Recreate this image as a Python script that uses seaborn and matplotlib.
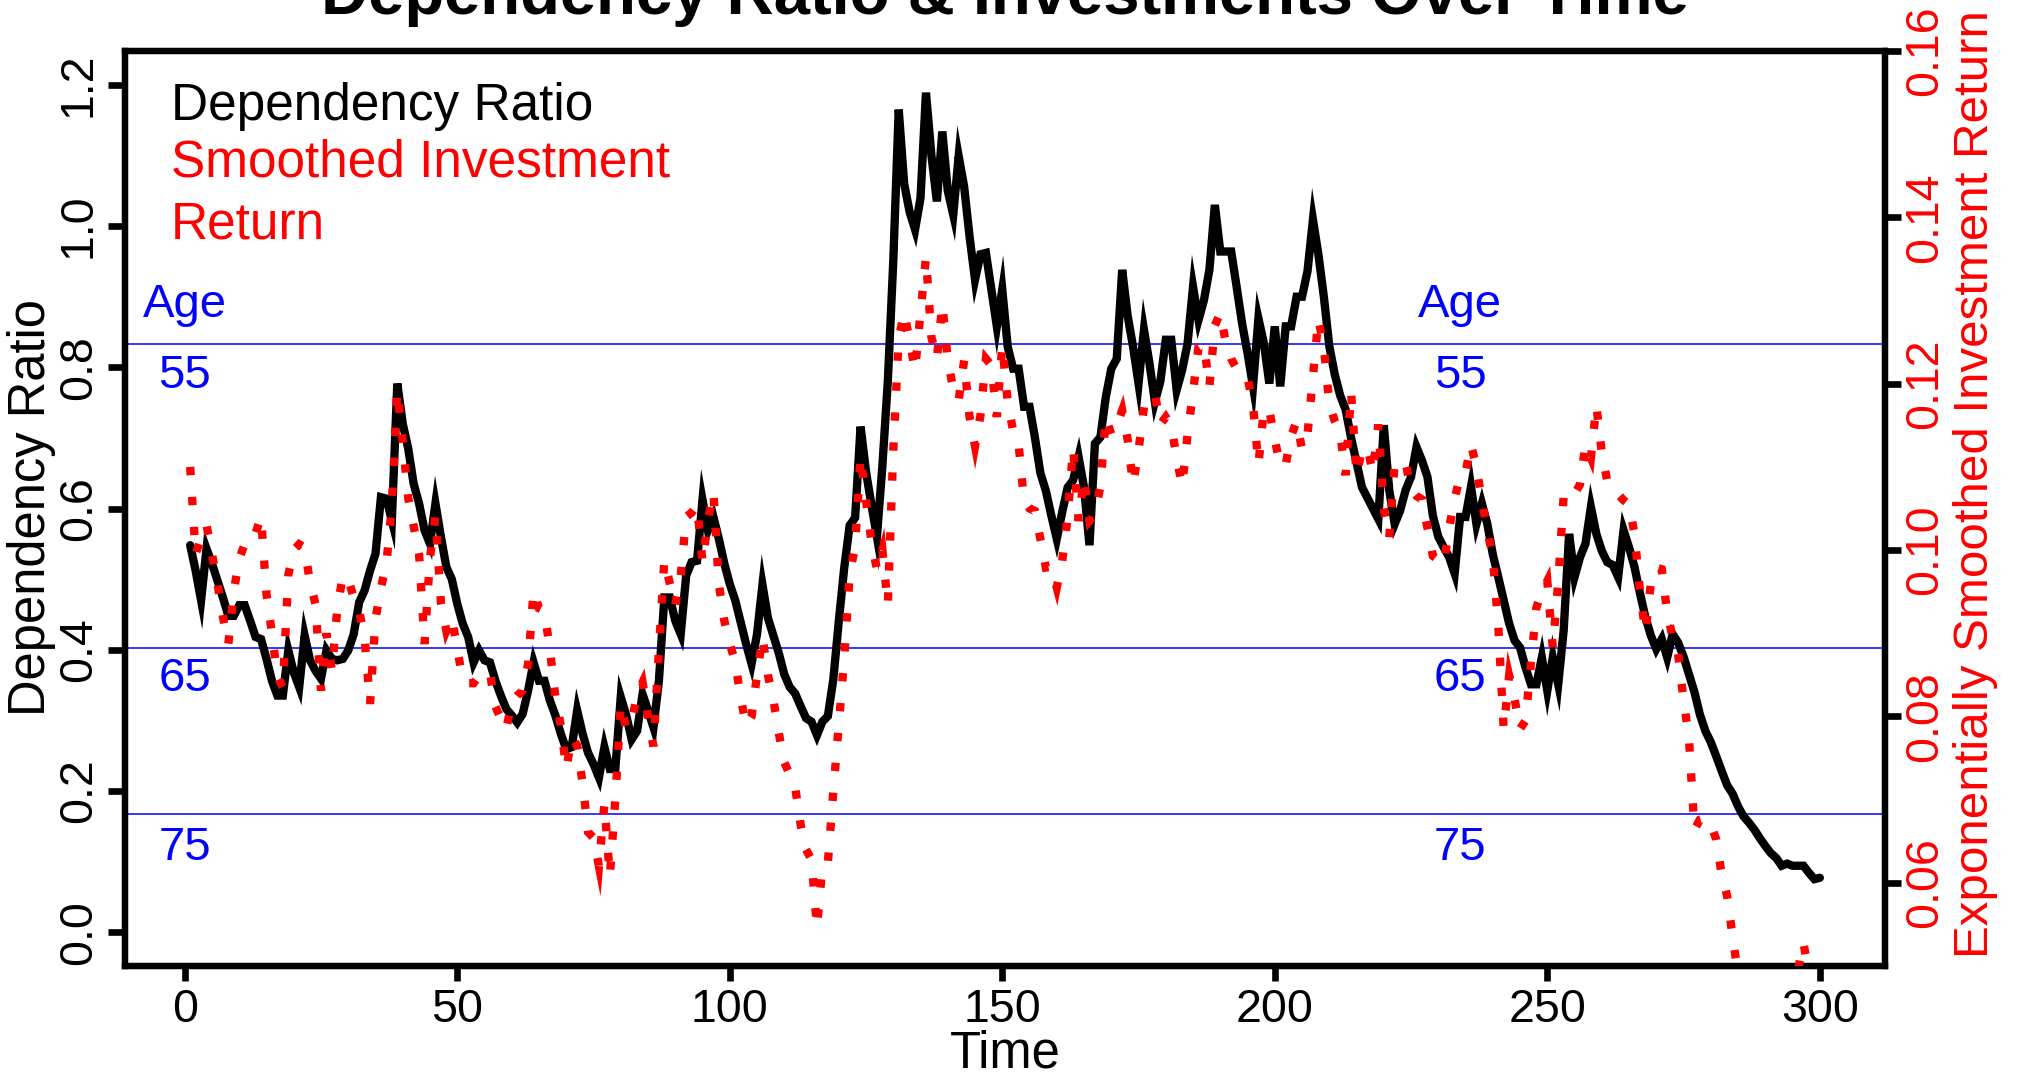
import numpy as np
import pandas as pd
import seaborn as sns
import matplotlib
matplotlib.use("Agg")
import matplotlib.pyplot as plt

# ---------------- data ----------------
time = list(range(1, 301))

dependency_ratio = [
    0.548, 0.512, 0.470, 0.543, 0.522, 0.498, 0.474, 0.448, 0.448, 0.463,
    0.463, 0.441, 0.418, 0.415, 0.387, 0.356, 0.335, 0.335, 0.399, 0.368,
    0.347, 0.420, 0.385, 0.370, 0.359, 0.399, 0.387, 0.385, 0.387, 0.399,
    0.422, 0.467, 0.484, 0.512, 0.536, 0.616, 0.614, 0.583, 0.777, 0.720,
    0.685, 0.635, 0.607, 0.569, 0.550, 0.607, 0.560, 0.517, 0.500, 0.465,
    0.437, 0.418, 0.382, 0.399, 0.385, 0.382, 0.356, 0.335, 0.316, 0.307,
    0.297, 0.309, 0.342, 0.382, 0.356, 0.356, 0.328, 0.307, 0.281, 0.259,
    0.262, 0.314, 0.281, 0.254, 0.238, 0.219, 0.262, 0.231, 0.231, 0.333,
    0.307, 0.273, 0.285, 0.337, 0.314, 0.290, 0.356, 0.474, 0.474, 0.441,
    0.422, 0.505, 0.524, 0.526, 0.612, 0.569, 0.588, 0.557, 0.522, 0.493,
    0.470, 0.439, 0.408, 0.380, 0.422, 0.492, 0.445, 0.420, 0.395, 0.365,
    0.347, 0.338, 0.320, 0.303, 0.298, 0.279, 0.298, 0.306, 0.358, 0.440,
    0.516, 0.576, 0.587, 0.716, 0.652, 0.605, 0.560, 0.660, 0.780, 0.950,
    1.165, 1.060, 1.020, 0.995, 1.040, 1.189, 1.100, 1.035, 1.134, 1.050,
    1.016, 1.099, 1.056, 0.985, 0.924, 0.960, 0.962, 0.910, 0.858, 0.910,
    0.829, 0.798, 0.798, 0.744, 0.744, 0.700, 0.650, 0.625, 0.590, 0.557,
    0.595, 0.630, 0.640, 0.673, 0.630, 0.548, 0.692, 0.701, 0.758, 0.798,
    0.812, 0.938, 0.873, 0.829, 0.777, 0.853, 0.806, 0.751, 0.780, 0.839,
    0.839, 0.768, 0.796, 0.834, 0.914, 0.867, 0.895, 0.938, 1.030, 0.964,
    0.964, 0.964, 0.914, 0.862, 0.820, 0.773, 0.869, 0.834, 0.777, 0.858,
    0.773, 0.858, 0.858, 0.900, 0.900, 0.936, 1.009, 0.960, 0.900, 0.830,
    0.790, 0.760, 0.740, 0.700, 0.665, 0.630, 0.615, 0.600, 0.585, 0.718,
    0.626, 0.578, 0.597, 0.626, 0.645, 0.687, 0.668, 0.645, 0.590, 0.560,
    0.545, 0.531, 0.508, 0.588, 0.588, 0.631, 0.578, 0.607, 0.578, 0.535,
    0.503, 0.470, 0.437, 0.413, 0.403, 0.375, 0.351, 0.351, 0.389, 0.342,
    0.389, 0.351, 0.427, 0.564, 0.503, 0.531, 0.550, 0.602, 0.564, 0.540,
    0.524, 0.520, 0.503, 0.569, 0.545, 0.517, 0.480, 0.446, 0.420, 0.401,
    0.415, 0.389, 0.422, 0.410, 0.390, 0.365, 0.340, 0.308, 0.285, 0.269,
    0.249, 0.228, 0.208, 0.196, 0.178, 0.164, 0.155, 0.145, 0.133, 0.122,
    0.112, 0.105, 0.094, 0.097, 0.094, 0.094, 0.094, 0.084, 0.075, 0.077,
]

smoothed_return = [
    0.1100, 0.0995, 0.1015, 0.1030, 0.0995, 0.0960, 0.0920, 0.0887, 0.0950, 0.0990,
    0.1007, 0.1007, 0.1020, 0.1040, 0.0947, 0.0900, 0.0848, 0.0835, 0.0970, 0.1000,
    0.1007, 0.1003, 0.0960, 0.0935, 0.0831, 0.0900, 0.0855, 0.0930, 0.0969, 0.0965,
    0.0943, 0.0927, 0.0895, 0.0815, 0.0917, 0.0955, 0.0983, 0.1053, 0.1192, 0.1131,
    0.1063, 0.1029, 0.0995, 0.0887, 0.0991, 0.1041, 0.0937, 0.0903, 0.0919, 0.0881,
    0.0845, 0.0840, 0.0840, 0.0849, 0.0851, 0.0853, 0.0812, 0.0797, 0.0785, 0.0817,
    0.0825, 0.0831, 0.0863, 0.0951, 0.0930, 0.0927, 0.0880, 0.0824, 0.0789, 0.0737,
    0.0775, 0.0765, 0.0720, 0.0661, 0.0654, 0.0620, 0.0695, 0.0608, 0.0700, 0.0815,
    0.0785, 0.0793, 0.0827, 0.0841, 0.0800, 0.0764, 0.0880, 0.0988, 0.0960, 0.0934,
    0.0969, 0.1040, 0.1045, 0.1054, 0.0985, 0.1036, 0.1070, 0.0959, 0.0915, 0.0888,
    0.0865, 0.0823, 0.0789, 0.0800, 0.0850, 0.0896, 0.0850, 0.0820, 0.0780, 0.0745,
    0.0730, 0.0715, 0.0670, 0.0640, 0.0628, 0.0546, 0.0620, 0.0624, 0.0710, 0.0790,
    0.0870, 0.0970, 0.1005, 0.1113, 0.1060, 0.1010, 0.0977, 0.1000, 0.0934, 0.1120,
    0.1254, 0.1286, 0.1252, 0.1216, 0.1286, 0.1352, 0.1256, 0.1230, 0.1296, 0.1228,
    0.1194, 0.1180, 0.1228, 0.1160, 0.1125, 0.1162, 0.1230, 0.1222, 0.1160, 0.1246,
    0.1178, 0.1143, 0.1127, 0.1059, 0.1050, 0.1047, 0.1013, 0.0979, 0.0980, 0.0955,
    0.0987, 0.1040, 0.1123, 0.1035, 0.1087, 0.1035, 0.1043, 0.1077, 0.1160, 0.1139,
    0.1150, 0.1168, 0.1133, 0.1079, 0.1120, 0.1172, 0.1180, 0.1188, 0.1151, 0.1160,
    0.1150, 0.1111, 0.1077, 0.1139, 0.1190, 0.1244, 0.1248, 0.1196, 0.1270, 0.1285,
    0.1250, 0.1230, 0.1218, 0.1212, 0.1208, 0.1174, 0.1103, 0.1170, 0.1168, 0.1133,
    0.1101, 0.1103, 0.1137, 0.1155, 0.1121, 0.1139, 0.1208, 0.1278, 0.1244, 0.1176,
    0.1155, 0.1140, 0.1090, 0.1190, 0.1090, 0.1121, 0.1123, 0.1093, 0.1151, 0.1050,
    0.1015, 0.1105, 0.1105, 0.1105, 0.1073, 0.1065, 0.1061, 0.1027, 0.0993, 0.0988,
    0.0983, 0.1027, 0.1061, 0.1090, 0.1093, 0.1127, 0.1100, 0.1059, 0.1024, 0.0991,
    0.0910, 0.0785, 0.0849, 0.0821, 0.0785, 0.0795, 0.0865, 0.0931, 0.0950, 0.0963,
    0.0883, 0.0961, 0.1065, 0.1060, 0.1067, 0.1079, 0.1127, 0.1111, 0.1174, 0.1117,
    0.1083, 0.1075, 0.1067, 0.1060, 0.1055, 0.1019, 0.0951, 0.0901, 0.0960, 0.0979,
    0.0977, 0.0925, 0.0895, 0.0875, 0.0820, 0.0773, 0.0664, 0.0676, 0.0678, 0.0670,
    0.0652, 0.0610, 0.0584, 0.0535, 0.0490, 0.0460, 0.0440, 0.0420, 0.0405, 0.0395,
    0.0390, 0.0395, 0.0410, 0.0430, 0.0460, 0.0495, 0.0528, 0.0490, 0.0460, 0.0440,
]

age_levels = ["55", "65", "75"]
age_line_values = [0.8325, 0.4026, 0.167]
age_label_values = [0.7712, 0.3411, 0.1027]
age_header_value = 0.8718
age_label_x = [0, 234]

x_ticks = [0, 50, 100, 150, 200, 250, 300]
left_ticks = [0.0, 0.2, 0.4, 0.6, 0.8, 1.0, 1.2]
left_tick_labels = ["0.0", "0.2", "0.4", "0.6", "0.8", "1.0", "1.2"]
right_ticks = [0.06, 0.08, 0.10, 0.12, 0.14, 0.16]
right_tick_labels = ["0.06", "0.08", "0.10", "0.12", "0.14", "0.16"]

title = "Dependency Ratio & Investments Over Time"
legend_entries = [("Dependency Ratio", "black"),
                  ("Smoothed Investment", "red"),
                  ("Return", "red")]

df = pd.DataFrame({"Time": time,
                   "Dependency Ratio": dependency_ratio,
                   "Return": smoothed_return})

# ---------------- style ----------------
sns.set_theme(style="white")
plt.rcParams["font.family"] = ["Liberation Sans", "DejaVu Sans"]

W, H = 2022, 1076
FS_TICK = 33.5
FS_LEG = 37
FS_AGE = 34
FS_LAB = 36.5
LW_BOX = 4.5
LW_DATA = 6.0

fig = plt.figure(figsize=(W / 100, H / 100), dpi=100)
left_px, right_px, top_px, bot_px = 125, 1885, 51, 966
ax = fig.add_axes([left_px / W, 1 - bot_px / H,
                   (right_px - left_px) / W, (bot_px - top_px) / H])
ax.set_facecolor("white")

# reference lines for ages
for v in age_line_values:
    ax.axhline(v, color="#0000FF", lw=1.1, zorder=1)

sns.lineplot(data=df, x="Time", y="Dependency Ratio", ax=ax, color="black",
             lw=LW_DATA, errorbar=None, solid_joinstyle="miter", zorder=3)

ax.set_xlim(-10.96, 311.96)
ax.set_ylim(-0.048, 1.248)
ax.set_xticks(x_ticks)
ax.set_xticklabels([str(t) for t in x_ticks])
ax.set_yticks(left_ticks)
ax.set_yticklabels(left_tick_labels)
ax.set_xlabel("")
ax.set_ylabel("")

for sp in ax.spines.values():
    sp.set_visible(True)
    sp.set_color("black")
    sp.set_linewidth(LW_BOX)

ax.tick_params(axis="x", bottom=True, length=11, width=LW_DATA * 0.8,
               color="black", labelsize=FS_TICK, labelcolor="black", pad=4.5,
               direction="out")
ax.tick_params(axis="y", left=True, length=12.5, width=LW_DATA * 0.8,
               color="black", labelsize=FS_TICK, labelcolor="black", pad=4.8,
               direction="out")
for lbl in ax.get_yticklabels():
    lbl.set_rotation(90)
    lbl.set_va("center")
    lbl.set_ha("right")

# age labels
for xpos in age_label_x:
    ax.text(xpos, age_header_value, "Age", color="#0000FF", fontsize=FS_AGE,
            ha="center", va="baseline", zorder=4)
    for lab, val in zip(age_levels, age_label_values):
        ax.text(xpos, val, lab, color="#0000FF", fontsize=FS_AGE,
                ha="center", va="baseline", zorder=4)

# secondary axis
ax2 = ax.twinx()
sns.lineplot(data=df, x="Time", y="Return", ax=ax2, color="#FF0000",
             lw=LW_DATA, errorbar=None, linestyle=(0, (1, 2.6)),
             dash_joinstyle="miter", dash_capstyle="butt", zorder=3)
ax2.set_ylim(0.05, 0.16)
ax2.set_yticks(right_ticks)
ax2.set_yticklabels(right_tick_labels)
ax2.set_ylabel("")
ax2.set_xlabel("")
for sp in ax2.spines.values():
    sp.set_visible(True)
    sp.set_color("black")
    sp.set_linewidth(LW_BOX)
ax2.tick_params(axis="y", right=True, left=False, length=11.5,
                width=LW_DATA * 0.8, color="black", labelsize=FS_TICK,
                labelcolor="#FF0000", pad=1.5, direction="out")
for lbl in ax2.get_yticklabels():
    lbl.set_rotation(90)
    lbl.set_va("center")
    lbl.set_ha("left")
ax2.grid(False)
ax.grid(False)

# text-only legend
legend_baselines = [120, 176.7, 238.3]
for (txt, col), yb in zip(legend_entries, legend_baselines):
    fig.text(171 / W, 1 - yb / H, txt, color=col, fontsize=FS_LEG,
             ha="left", va="baseline")

# title and axis labels
fig.text(1005 / W, 1 - 14 / H, title, fontsize=47, fontweight="bold",
         ha="center", va="baseline", color="black")
fig.text(1005 / W, 1 - 1068 / H, "Time", fontsize=FS_LAB, ha="center",
         va="baseline", color="black")
fig.text(32 / W, 1 - 507 / H, "Dependency Ratio", fontsize=FS_LAB,
         rotation=90, ha="center", va="center", color="black")
fig.text(1975 / W, 1 - 484 / H, "Exponentially Smoothed Investment Return",
         fontsize=35.5, rotation=90, ha="center", va="center", color="#FF0000")

fig.savefig("out.png", dpi=100, facecolor="white")
